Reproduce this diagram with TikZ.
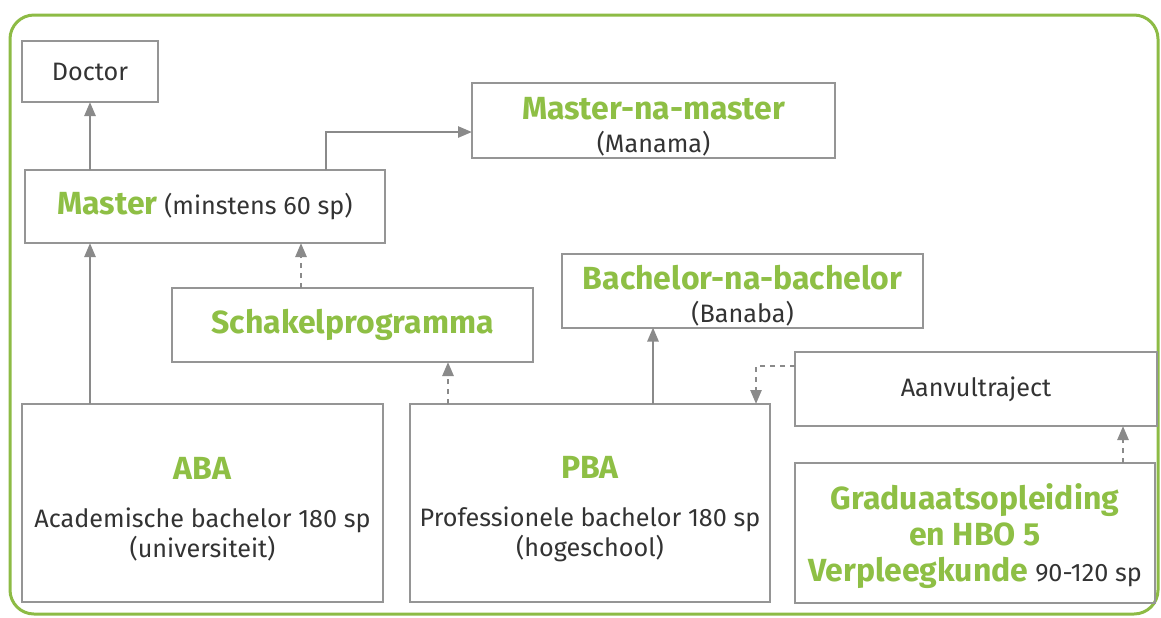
\documentclass[tikz,border=0pt]{standalone}
\usepackage{fontspec}
\setmainfont{Fira Sans}
\usetikzlibrary{arrows.meta}
\definecolor{framegreen}{HTML}{8DBB45}
\definecolor{titlegreen}{HTML}{8EBF45}
\definecolor{boxgray}{HTML}{959595}
\definecolor{linegray}{HTML}{8A8A8A}
\definecolor{textgray}{HTML}{333333}
\newcommand{\titel}[1]{{\color{titlegreen}\fontsize{16}{19}\selectfont\bfseries #1}}
\newcommand{\hoog}[1]{\rule{0pt}{#1}}

\begin{document}
\begin{tikzpicture}[x=0.5pt,y=-0.5pt,>={Triangle[length=7pt,width=5.5pt]},
  box/.style={draw=boxgray,line width=1pt,inner sep=0pt,outer sep=0pt,
    minimum width=180pt,minimum height=37pt,align=center,text=textgray,
    font=\fontsize{12.6}{15}\selectfont},
  pijl/.style={->,draw=linegray,line width=1.3pt},
  stippel/.style={pijl,dash pattern=on 2.5pt off 2.5pt}]
  \useasboundingbox (0,0) rectangle (1161,617);
  \draw[framegreen,line width=1.5pt,rounded corners=12pt] (10,15) rectangle (1158,614);

  \node[box,minimum width=68pt,minimum height=30.5pt] (doctor) at (90,71.5) {Doctor};
  \node[box,minimum height=36.5pt] (master) at (205,206.5) {\titel{Master} (minstens 60 sp)};
  \node[box,minimum width=181.5pt,minimum height=37.5pt] (manama) at (653.5,120.5) {\hoog{17pt}\titel{Master-na-master}\\[1.5pt](Manama)};
  \node[box,minimum width=180.5pt] (schakel) at (352.5,325) {\titel{Schakelprogramma}};
  \node[box,minimum width=180.5pt] (banaba) at (742.5,290.5) {\hoog{17pt}\titel{Bachelor-na-bachelor}\\[1.5pt](Banaba)};
  \node[box,minimum width=181pt] (aanvul) at (976,389) {Aanvultraject};
  \node[box,minimum width=180.5pt,minimum height=99pt] (aba) at (202.5,503) {\hoog{17.5pt}\titel{ABA}\\[9pt]Academische bachelor 180 sp\\(universiteit)};
  \node[box,minimum height=99pt] (pba) at (590,503) {\hoog{17.5pt}\titel{PBA}\\[9pt]Professionele bachelor 180 sp\\(hogeschool)};
  \node[box,minimum height=70pt] (graduaat) at (975,533) {\hoog{16pt}\titel{Graduaatsopleiding}\\[3pt]\titel{en HBO 5}\\[3pt]\titel{Verpleegkunde} 90-120 sp};

  \draw[pijl] (doctor.south |- master.north) -- (doctor.south);
  \draw[pijl] (doctor.south |- aba.north) -- (doctor.south |- master.south);
  \draw[pijl] ([xshift=60.5pt]master.north) |- ([yshift=-5.75pt]manama.west);
  \draw[stippel] ([xshift=-25.75pt]schakel.north) -- ([xshift=-25.75pt]schakel.north |- master.south);
  \draw[stippel] ([xshift=-71pt]pba.north) -- ([xshift=-71pt]pba.north |- schakel.south);
  \draw[pijl] ([xshift=31.5pt]pba.north) -- ([xshift=31.5pt]pba.north |- banaba.south);
  \draw[stippel] ([yshift=11.5pt]aanvul.west) -| ([xshift=-7pt]pba.north east);
  \draw[stippel] ([xshift=74pt]graduaat.north) -- ([xshift=74pt]graduaat.north |- aanvul.south);
\end{tikzpicture}
\end{document}
